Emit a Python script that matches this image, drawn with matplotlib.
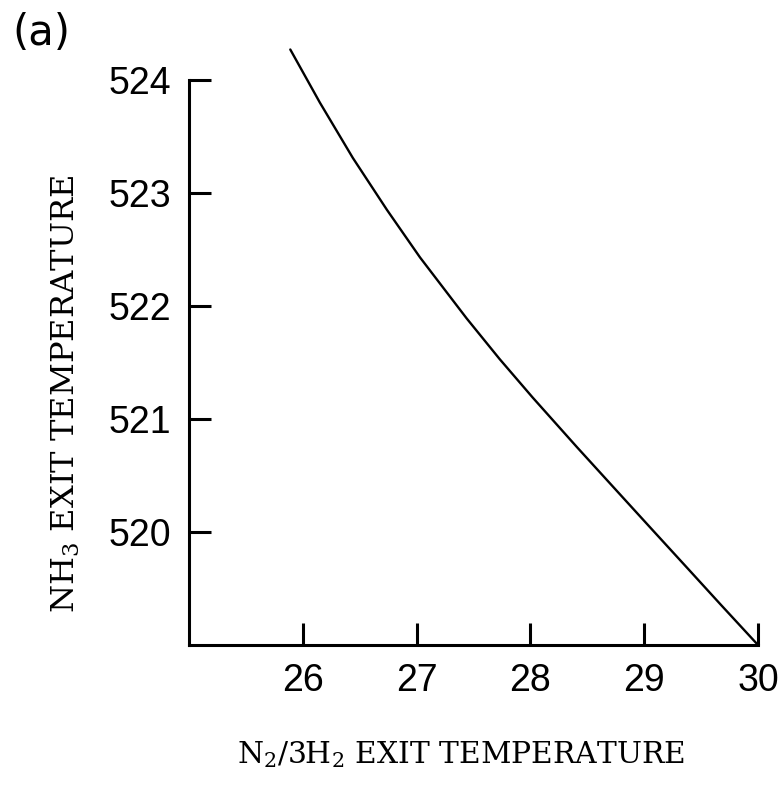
import matplotlib
matplotlib.use("Agg")
import matplotlib.pyplot as plt
import numpy as np

# N2/3H2 exit temperature vs NH3 exit temperature
n2_temp = [25.89, 26.15, 26.44, 26.74, 27.03, 27.44, 27.73, 28.02,
           28.41, 28.79, 29.08, 29.38, 29.67, 30.0]
nh3_temp = [524.27, 523.80, 523.31, 522.85, 522.43, 521.89, 521.53, 521.19,
            520.75, 520.33, 520.01, 519.68, 519.36, 519.0]

x_ticks = [26, 27, 28, 29, 30]
y_ticks = [520, 521, 522, 523, 524]

plt.rcParams['mathtext.fontset'] = 'dejavuserif'

fig = plt.figure(figsize=(7.8, 7.87), dpi=100, facecolor='white')
ax = fig.add_axes([189 / 780, 1 - 645 / 787, (758 - 189) / 780, (645 - 80) / 787])

ax.plot(n2_temp, nh3_temp, color='black', linewidth=1.7, clip_on=False,
        solid_capstyle='round', solid_joinstyle='round')

ax.set_xlim(25, 30)
ax.set_ylim(519, 524)
ax.set_xticks(x_ticks)
ax.set_yticks(y_ticks)
ax.set_xticklabels([str(t) for t in x_ticks], family='Liberation Sans', fontsize=27)
ax.set_yticklabels([str(t) for t in y_ticks], family='Liberation Sans', fontsize=27)

for side in ('top', 'right'):
    ax.spines[side].set_visible(False)
for side in ('left', 'bottom'):
    ax.spines[side].set_linewidth(2.2)
ax.tick_params(direction='in', length=16, width=2.2, pad=13)

renderer = fig.canvas.get_renderer()


def fit_text(txt, target_px, vertical=False):
    # scale the font so the label spans the same length as in the original
    bb = txt.get_window_extent(renderer)
    cur = bb.height if vertical else bb.width
    txt.set_fontsize(txt.get_fontsize() * target_px / cur)


# axis labels in a typewriter-like slab serif, placed as in the original
xl = fig.text(461 / 780, 1 - 763 / 787, r'N$_2$/3H$_2$ EXIT TEMPERATURE',
              family='DejaVu Serif', fontsize=17, ha='center', va='baseline')
fit_text(xl, 448)
yl = fig.text(66 / 780, 1 - 394 / 787, r'NH$_3$ EXIT TEMPERATURE',
              family='DejaVu Serif', fontsize=22, ha='center', va='center',
              rotation=90)
fit_text(yl, 438, vertical=True)

fig.text(12 / 780, 1 - 33 / 787, '(a)', family='DejaVu Sans', fontsize=30,
         ha='left', va='center')

fig.savefig('out.png', dpi=100, facecolor='white')
